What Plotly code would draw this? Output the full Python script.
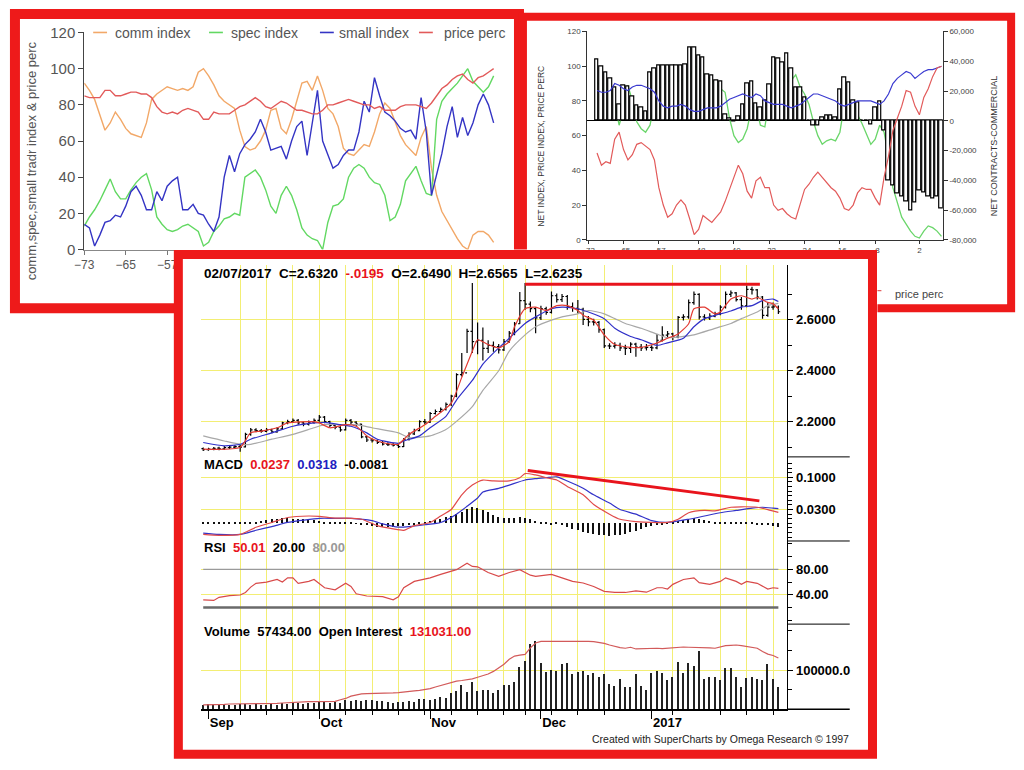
import plotly.graph_objects as go

FONT = "Liberation Sans, Arial, sans-serif"
RED_BORDER = "#ee1a1a"
YEL = "#f3ee74"
W, H = 1024, 770

# ------------------------------------------------------------------ data: top-left panel
weeks_tl = list(range(-73, 7))
comm_index = [92, 88, 83, 75, 66, 70, 76, 72, 67, 64, 63, 62, 70, 83, 86, 88, 90, 89, 88, 89,
              88, 90, 98, 100, 96, 91, 85, 82, 80, 78, 66, 57, 55, 56, 60, 66, 77, 78, 67, 64,
              72, 82, 92, 93, 88, 96, 88, 78, 75, 68, 56, 53, 52, 55, 58, 57, 65, 75, 81, 78,
              70, 63, 58, 55, 52, 62, 68, 45, 30, 21, 16, 11, 6, 2, 0, 8, 10, 10, 8, 4]
spec_index = [13, 18, 22, 27, 33, 39, 32, 28, 28, 33, 37, 40, 42, 33, 18, 14, 11, 10, 11, 13,
              14, 12, 10, 2, 4, 10, 13, 17, 18, 20, 19, 40, 42, 44, 40, 33, 24, 20, 30, 35,
              30, 22, 12, 8, 6, 5, 0, 15, 24, 25, 28, 40, 45, 47, 45, 40, 37, 36, 30, 16,
              18, 25, 38, 42, 46, 38, 31, 30, 72, 82, 86, 89, 92, 96, 100, 93, 90, 87, 90, 96]
small_index = [14, 12, 2, 8, 15, 16, 19, 18, 24, 32, 35, 30, 22, 22, 32, 27, 35, 38, 40, 22,
               22, 25, 20, 19, 14, 10, 18, 40, 52, 43, 53, 58, 61, 65, 72, 65, 55, 56, 57, 50,
               60, 68, 71, 52, 70, 88, 60, 52, 45, 47, 52, 55, 55, 65, 82, 76, 95, 85, 76, 74,
               71, 67, 65, 66, 61, 84, 65, 30, 42, 53, 68, 79, 62, 73, 63, 70, 80, 86, 80, 70]
price_perc_tl = [85, 84, 84, 84, 88, 88, 85, 85, 86, 87, 87, 86, 86, 84, 79, 76, 75, 76, 75, 77,
                 78, 77, 76, 72, 72, 76, 75, 75, 75, 77, 79, 80, 82, 84, 82, 79, 78, 80, 82, 81,
                 79, 77, 77, 76, 75, 75, 77, 80, 80, 81, 82, 83, 82, 81, 80, 80, 78, 79, 77, 77,
                 77, 79, 80, 80, 80, 79, 78, 81, 85, 89, 91, 94, 96, 97, 94, 92, 95, 96, 98, 100]
tl_xticks = [-73, -65, -57]
tl_names = ["comm index", "spec index", "small index", "price perc"]

# ------------------------------------------------------------------ data: top-right panel
weeks_tr = list(range(-71, 8))
net_contracts = [41100, 36700, 32300, 28400, 22400, 10800, 23800, 23300, 16500, 10300,
                 8600, 6400, 32300, 35000, 37400, 37400, 37200, 37200, 37200, 37200,
                 38100, 49000, 49500, 44000, 42300, 31200, 30100, 26800, 26200, 4200,
                 1500, -200, 3000, 10800, 25300, 26200, 11400, 9200, 13600, 24600,
                 42300, 41600, 39000, 45500, 35000, 22400, 22400, 15800, 500, -3300,
                 -3300, 2200, 3300, 3700, 2000, 21300, 29000, 25700, 13600, 12500,
                 400, 300, -2200, 8800, 13000, -6800, -40000, -43600, -49000, -51000,
                 -54500, -60000, -55000, -46800, -48000, -51000, -52000, -51000, -59000]
net_index_tr = [91, 88, 84, 86, 79, 66, 75, 89, 80, 68, 64, 62, 66, 79, 87, 89, 91, 92, 91, 92,
                93, 94, 100, 99, 96, 94, 92, 90, 87, 85, 70, 60, 56, 58, 64, 76, 77, 66, 65, 80,
                88, 92, 92, 91, 92, 95, 88, 84, 78, 68, 60, 55, 57, 58, 57, 62, 78, 80, 79, 72,
                67, 61, 55, 58, 66, 62, 48, 30, 22, 13, 9, 5, 2, 1, 5, 8, 7, 5, 2]
price_index_tr = [86, 85, 85, 86, 90, 89, 87, 86, 88, 89, 89, 88, 87, 85, 80, 77, 76, 77, 77, 78,
                  77, 75, 74, 74, 75, 76, 76, 76, 77, 79, 81, 82, 83, 84, 83, 82, 84, 83, 80, 79,
                  78, 78, 78, 77, 76, 77, 78, 80, 82, 84, 84, 83, 82, 81, 80, 78, 77, 78, 79, 80,
                  80, 80, 80, 79, 78, 80, 84, 90, 93, 95, 97, 96, 93, 95, 97, 98, 98, 99, 100]
price_perc_tr = [50, 43, 45, 44, 58, 62, 52, 46, 49, 55, 56, 54, 52, 46, 30, 20, 13, 15, 20, 23,
                 20, 12, 3, 6, 14, 12, 10, 13, 16, 22, 29, 36, 43, 38, 28, 24, 34, 36, 30, 30,
                 20, 17, 18, 15, 13, 12, 21, 29, 32, 36, 39, 36, 33, 30, 28, 24, 18, 17, 20, 27,
                 30, 29, 29, 24, 20, 36, 48, 63, 70, 77, 86, 85, 77, 72, 82, 87, 94, 99, 100]
tr_xticks = [-73, -65, -57, -48, -40, -32, -24, -16, -8, 2]
tr_y2ticks = [60000, 40000, 20000, 0, -20000, -40000, -60000, -80000]
tr_legend_name = "price perc"

# ------------------------------------------------------------------ data: SuperCharts panel
bar_date = "02/07/2017"
bar_idx = list(range(110))
month_idx = [1, 22, 43, 64, 85]
month_labels = ["Sep", "Oct", "Nov", "Dec", "2017"]
week_lines = [7, 12, 17, 22, 27, 32, 37, 42, 47, 52, 57, 61, 66, 71, 76, 89, 98, 103, 108]

close = [2.090, 2.092, 2.095, 2.093, 2.098, 2.100, 2.102, 2.100, 2.150, 2.168,
         2.165, 2.163, 2.168, 2.160, 2.172, 2.195, 2.200, 2.205, 2.195, 2.190,
         2.198, 2.205, 2.218, 2.200, 2.185, 2.178, 2.168, 2.205, 2.198, 2.190,
         2.140, 2.128, 2.125, 2.118, 2.112, 2.110, 2.108, 2.102, 2.130, 2.152,
         2.165, 2.200, 2.198, 2.232, 2.240, 2.248, 2.268, 2.300, 2.385, 2.392,
         2.555, 2.515, 2.520, 2.488, 2.500, 2.495, 2.482, 2.515, 2.548, 2.585,
         2.676, 2.662, 2.644, 2.608, 2.644, 2.630, 2.695, 2.680, 2.692, 2.652,
         2.645, 2.642, 2.602, 2.592, 2.590, 2.562, 2.498, 2.497, 2.500, 2.490,
         2.488, 2.505, 2.493, 2.490, 2.492, 2.490, 2.520, 2.540, 2.545, 2.532,
         2.610, 2.612, 2.668, 2.700, 2.612, 2.608, 2.615, 2.624, 2.650, 2.700,
         2.706, 2.680, 2.655, 2.720, 2.718, 2.690, 2.618, 2.650, 2.6515, 2.632]
open_ = [2.094, 2.090, 2.092, 2.096, 2.093, 2.098, 2.100, 2.103, 2.101, 2.150,
         2.168, 2.165, 2.162, 2.168, 2.160, 2.172, 2.195, 2.200, 2.205, 2.195,
         2.190, 2.198, 2.205, 2.218, 2.200, 2.185, 2.178, 2.168, 2.205, 2.198,
         2.190, 2.140, 2.128, 2.125, 2.118, 2.112, 2.110, 2.108, 2.102, 2.130,
         2.152, 2.165, 2.200, 2.198, 2.232, 2.240, 2.248, 2.268, 2.300, 2.385,
         2.392, 2.555, 2.515, 2.520, 2.488, 2.500, 2.495, 2.482, 2.515, 2.548,
         2.585, 2.676, 2.662, 2.644, 2.608, 2.644, 2.630, 2.695, 2.680, 2.692,
         2.652, 2.645, 2.642, 2.602, 2.592, 2.590, 2.562, 2.498, 2.497, 2.500,
         2.490, 2.488, 2.505, 2.493, 2.490, 2.492, 2.490, 2.520, 2.540, 2.545,
         2.532, 2.610, 2.612, 2.668, 2.700, 2.612, 2.608, 2.615, 2.624, 2.650,
         2.700, 2.706, 2.680, 2.655, 2.720, 2.718, 2.690, 2.618, 2.650, 2.649]
high = [2.098, 2.097, 2.100, 2.101, 2.104, 2.106, 2.108, 2.112, 2.156, 2.175,
        2.174, 2.171, 2.175, 2.172, 2.178, 2.200, 2.208, 2.212, 2.210, 2.200,
        2.205, 2.212, 2.226, 2.222, 2.204, 2.190, 2.182, 2.212, 2.210, 2.202,
        2.192, 2.145, 2.134, 2.130, 2.124, 2.119, 2.116, 2.112, 2.136, 2.158,
        2.172, 2.206, 2.210, 2.238, 2.248, 2.256, 2.275, 2.306, 2.390, 2.470,
        2.565, 2.745, 2.590, 2.570, 2.520, 2.515, 2.505, 2.525, 2.556, 2.592,
        2.710, 2.745, 2.672, 2.650, 2.656, 2.652, 2.712, 2.704, 2.702, 2.698,
        2.668, 2.678, 2.648, 2.615, 2.605, 2.596, 2.566, 2.508, 2.512, 2.510,
        2.502, 2.512, 2.510, 2.505, 2.505, 2.500, 2.545, 2.575, 2.556, 2.550,
        2.615, 2.622, 2.680, 2.712, 2.705, 2.622, 2.626, 2.632, 2.658, 2.712,
        2.716, 2.710, 2.690, 2.735, 2.730, 2.722, 2.694, 2.668, 2.668, 2.6565]
low = [2.085, 2.086, 2.088, 2.088, 2.090, 2.093, 2.095, 2.082, 2.098, 2.145,
       2.158, 2.156, 2.158, 2.154, 2.156, 2.168, 2.190, 2.195, 2.188, 2.182,
       2.185, 2.192, 2.200, 2.194, 2.178, 2.170, 2.160, 2.165, 2.190, 2.182,
       2.135, 2.120, 2.118, 2.112, 2.106, 2.104, 2.102, 2.096, 2.100, 2.126,
       2.148, 2.162, 2.190, 2.195, 2.228, 2.236, 2.244, 2.262, 2.296, 2.378,
       2.470, 2.470, 2.465, 2.440, 2.470, 2.475, 2.468, 2.478, 2.510, 2.540,
       2.585, 2.640, 2.630, 2.548, 2.600, 2.620, 2.625, 2.668, 2.670, 2.640,
       2.632, 2.626, 2.580, 2.575, 2.578, 2.550, 2.490, 2.486, 2.488, 2.478,
       2.462, 2.470, 2.455, 2.478, 2.480, 2.478, 2.485, 2.515, 2.530, 2.520,
       2.528, 2.598, 2.605, 2.660, 2.602, 2.598, 2.600, 2.610, 2.618, 2.645,
       2.690, 2.672, 2.640, 2.650, 2.700, 2.680, 2.605, 2.612, 2.640, 2.6235]

ma_fast_idx = [0, 7, 9, 11, 14, 16, 21, 22, 24, 27, 29, 31, 33, 36, 37, 39, 42, 44, 47, 49,
               51, 52, 54, 56, 58, 59, 61, 63, 65, 67, 69, 71, 72, 74, 76, 78, 81, 83, 86, 88,
               90, 92, 93, 95, 97, 98, 100, 102, 104, 105, 107, 108, 109]
ma_fast = [2.092, 2.099, 2.156, 2.163, 2.176, 2.195, 2.200, 2.195, 2.176, 2.188,
           2.182, 2.144, 2.124, 2.111, 2.111, 2.150, 2.188, 2.221, 2.272, 2.374,
           2.477, 2.522, 2.503, 2.490, 2.515, 2.573, 2.644, 2.650, 2.637, 2.656,
           2.656, 2.637, 2.618, 2.599, 2.541, 2.503, 2.492, 2.492, 2.509, 2.528,
           2.545, 2.585, 2.644, 2.650, 2.624, 2.631, 2.682, 2.695, 2.682, 2.688,
           2.669, 2.663, 2.644]
ma_mid_idx = [0, 4, 7, 9, 13, 17, 21, 23, 26, 28, 31, 33, 37, 38, 41, 43, 46, 48, 51, 53,
              56, 58, 61, 63, 66, 68, 71, 73, 76, 78, 81, 83, 86, 88, 91, 93, 95, 97, 100, 102,
              104, 106, 108, 109]
ma_mid = [2.118, 2.105, 2.111, 2.131, 2.156, 2.182, 2.195, 2.197, 2.188, 2.182,
          2.156, 2.131, 2.115, 2.124, 2.144, 2.176, 2.221, 2.285, 2.362, 2.426,
          2.490, 2.528, 2.586, 2.612, 2.644, 2.650, 2.644, 2.631, 2.605, 2.567,
          2.535, 2.522, 2.500, 2.510, 2.528, 2.573, 2.605, 2.618, 2.635, 2.650,
          2.656, 2.676, 2.682, 2.672]
ma_slow_idx = [0, 4, 7, 9, 13, 17, 21, 23, 27, 29, 32, 37, 39, 43, 46, 48, 51, 53, 56, 58,
               61, 63, 66, 68, 71, 73, 76, 78, 80, 83, 86, 88, 91, 93, 97, 100, 102, 105, 107, 109]
ma_slow = [2.144, 2.124, 2.111, 2.111, 2.131, 2.150, 2.176, 2.188, 2.188, 2.188,
           2.176, 2.156, 2.137, 2.144, 2.169, 2.201, 2.259, 2.323, 2.400, 2.477,
           2.541, 2.573, 2.599, 2.612, 2.624, 2.637, 2.624, 2.605, 2.586, 2.567,
           2.544, 2.530, 2.535, 2.541, 2.567, 2.586, 2.605, 2.631, 2.656, 2.665]
resistance_idx = [61, 105.5]
resistance_level = [2.74, 2.74]

macd_idx = [0, 3, 7, 10, 13, 16, 20, 22, 25, 27, 30, 33, 36, 38, 40, 43, 45, 47, 49, 51,
            53, 55, 58, 60, 61, 63, 65, 67, 69, 72, 74, 77, 79, 82, 85, 88, 90, 92, 95, 97,
            100, 102, 105, 107, 109]
macd_vals = [-0.024, -0.026, -0.024, -0.0085, 0.002, 0.0127, 0.016, 0.015, 0.0113, 0.0113,
             0.009, -0.005, -0.012, -0.015, -0.005, 0.002, 0.016, 0.030, 0.062, 0.083,
             0.094, 0.092, 0.092, 0.099, 0.108, 0.105, 0.099, 0.094, 0.080, 0.062,
             0.041, 0.020, 0.009, 0.004, 0.002, 0.002, 0.009, 0.023, 0.028, 0.027,
             0.035, 0.036, 0.035, 0.030, 0.0237]
signal_idx = [0, 3, 7, 10, 13, 16, 19, 22, 25, 28, 32, 34, 37, 39, 42, 45, 48, 50, 52, 53,
              56, 58, 61, 63, 65, 67, 69, 72, 74, 77, 79, 82, 85, 88, 92, 95, 98, 101, 104, 106,
              108, 109]
signal_vals = [-0.021, -0.024, -0.024, -0.015, -0.007, 0.002, 0.007, 0.011, 0.011, 0.011,
               0.006, -0.001, -0.008, -0.007, -0.003, 0.002, 0.020, 0.037, 0.055, 0.068,
               0.076, 0.083, 0.094, 0.097, 0.099, 0.101, 0.092, 0.076, 0.062, 0.044,
               0.030, 0.020, 0.006, 0.002, 0.009, 0.016, 0.023, 0.028, 0.033, 0.035,
               0.033, 0.0318]
macd_hist = [0.003, 0.002, 0.002, 0.003, 0.002, 0.002, 0.003, 0.002, 0.002, 0.003,
             0.004, 0.006, 0.008, 0.009, 0.010, 0.011, 0.011, 0.010, 0.010, 0.009,
             0.008, 0.007, 0.005, 0.003, 0.002, 0.002, 0.002, 0.002, 0.002, 0.001,
             -0.002, -0.004, -0.006, -0.007, -0.008, -0.008, -0.007, -0.006, -0.005, -0.003,
             -0.002, 0.002, 0.004, 0.006, 0.008, 0.010, 0.013, 0.016, 0.020, 0.026,
             0.032, 0.036, 0.034, 0.030, 0.024, 0.018, 0.014, 0.012, 0.011, 0.012,
             0.013, 0.012, 0.010, 0.006, 0.003, 0.002, -0.002, 0.002, -0.004, -0.008,
             -0.012, -0.015, -0.018, -0.021, -0.023, -0.025, -0.026, -0.027, -0.026, -0.024,
             -0.022, -0.019, -0.016, -0.012, -0.008, -0.005, -0.003, -0.002, 0.002, 0.004,
             0.006, 0.008, 0.010, 0.011, 0.010, 0.008, 0.006, 0.004, 0.003, 0.003,
             0.004, 0.004, 0.003, 0.002, 0.002, -0.002, -0.002, -0.004, -0.006, -0.0081]
macd_trend_idx = [61.5, 105.4]
macd_trend_vals = [0.1145, 0.0488]

rsi_idx = [0, 2, 3, 5, 7, 8, 9, 10, 12, 14, 15, 16, 17, 18, 20, 21, 23, 25, 27, 28,
           29, 31, 34, 36, 37, 38, 40, 43, 45, 48, 50, 51, 52, 54, 56, 58, 60, 62, 63, 66,
           68, 70, 72, 74, 76, 78, 80, 82, 84, 86, 87, 88, 89, 91, 93, 94, 96, 98, 99, 101,
           102, 103, 105, 107, 108, 109]
rsi_vals = [32, 31, 36, 38.5, 39.6, 43.6, 52, 58, 60, 64, 60, 66.6, 66.6, 58, 61, 64, 51, 47.7, 58, 53,
            41.5, 38, 36.9, 32, 36.9, 51, 61, 66.6, 72, 79.5, 89.7, 84.6, 84, 75, 69, 75, 79.5, 70.8, 69, 72,
            66.6, 61, 58.5, 53, 45.4, 43.6, 43.6, 46, 44, 51, 51, 49, 56.4, 64, 66.6, 59, 56.4, 61, 66.6, 61,
            56.4, 61, 58, 49, 51, 50.01]
rsi_low_level = 20
rsi_high_level = 80

volume = [11000, 12000, 10000, 11000, 12000, 10000, 11000, 13000, 12000, 11000,
          12000, 10000, 11000, 12000, 11000, 15000, 14000, 16000, 15000, 14000,
          15000, 16000, 18000, 17000, 16000, 19000, 15000, 22000, 20000, 22000,
          21000, 23000, 22000, 20000, 21000, 19000, 15000, 19000, 18000, 20000,
          19000, 25000, 26000, 24000, 25000, 30000, 29000, 40000, 47000, 61000,
          44000, 69000, 47000, 50000, 50000, 40000, 48000, 61000, 61000, 69000,
          107000, 123000, 167000, 173000, 119000, 94000, 100000, 98000, 115000, 117000,
          90000, 94000, 97000, 86000, 92000, 82000, 89000, 64000, 60000, 77000,
          57000, 56000, 89000, 60000, 49000, 91000, 98000, 91000, 74000, 82000,
          121000, 93000, 118000, 110000, 149000, 77000, 82000, 81000, 74000, 106000,
          106000, 81000, 57000, 79000, 82000, 77000, 74000, 116000, 77000, 57434]
open_interest = [10800, 11700, 11700, 12500, 12500, 13300, 13300, 13300, 14200, 14200,
                 15000, 15000, 15000, 15000, 15000, 15800, 16700, 17500, 18300, 18300,
                 19200, 19200, 19200, 19200, 19200, 20000, 24200, 27500, 33300, 36700,
                 39200, 40000, 40000, 40000, 40800, 40800, 41700, 42500, 43300, 45800,
                 46700, 48300, 50000, 52500, 56700, 60800, 65000, 69200, 71600, 73300,
                 75000, 77500, 81600, 85800, 90000, 96600, 105000, 115000, 127500, 135800,
                 138300, 140000, 156600, 169100, 173300, 173300, 174100, 175000, 175000, 175000,
                 175000, 175000, 174100, 173300, 172500, 170800, 168300, 164000, 160000, 157500,
                 155800, 158300, 154000, 154800, 155800, 155800, 155800, 155000, 155800, 157400,
                 159000, 159000, 158300, 157400, 157400, 157400, 156600, 155800, 159000, 162400,
                 163300, 164100, 162400, 160000, 158300, 155800, 147400, 140800, 137400, 131031]


# ------------------------------------------------------------------ helpers (layout only)
def fx(p):
    return p / W


def fy(p):
    return 1 - p / H


fig = go.Figure()

# ---------------- top-left panel
tl_colors = ["#f2a868", "#62d862", "#3434c4", "#e25a5a"]
for name, vals, col in zip(tl_names, [comm_index, spec_index, small_index, price_perc_tl], tl_colors):
    fig.add_trace(go.Scatter(x=weeks_tl, y=vals, name=name, mode="lines",
                             line=dict(color=col, width=1.4), xaxis="x", yaxis="y"))

# ---------------- top-right panel
fig.add_trace(go.Scatter(x=weeks_tr, y=net_index_tr, mode="lines", name="net index",
                         line=dict(color="#6ad66a", width=1.3), xaxis="x2", yaxis="y2"))
fig.add_trace(go.Bar(x=weeks_tr, y=net_contracts, width=0.78, name="net contracts",
                     marker=dict(color="white", line=dict(color="black", width=1.2)),
                     xaxis="x2", yaxis="y3"))
fig.add_trace(go.Scatter(x=weeks_tr, y=price_index_tr, mode="lines", name="price index",
                         line=dict(color="#3a3ad0", width=1.2), xaxis="x2", yaxis="y4"))
fig.add_trace(go.Scatter(x=weeks_tr, y=price_perc_tr, mode="lines", name=tr_legend_name,
                         line=dict(color="#e25a5a", width=1.2), xaxis="x2", yaxis="y4"))

# ---------------- SuperCharts: price pane
for xs, ys, col in [(ma_slow_idx, ma_slow, "#a8a8a8"), (ma_mid_idx, ma_mid, "#3030c8"),
                    (ma_fast_idx, ma_fast, "#e23a32")]:
    fig.add_trace(go.Scatter(x=xs, y=ys, mode="lines",
                             line=dict(color=col, width=1.2, shape="spline", smoothing=0.6),
                             xaxis="x3", yaxis="y5"))
fig.add_trace(go.Ohlc(x=bar_idx, open=open_, high=high, low=low, close=close,
                      increasing=dict(line=dict(color="black", width=1.2)),
                      decreasing=dict(line=dict(color="black", width=1.2)),
                      tickwidth=0.35, xaxis="x3", yaxis="y5"))
fig.add_trace(go.Scatter(x=resistance_idx, y=resistance_level, mode="lines",
                         line=dict(color="#e8141c", width=3), xaxis="x3", yaxis="y5"))

# ---------------- MACD pane
fig.add_trace(go.Bar(x=bar_idx, y=macd_hist, width=0.25, marker=dict(color="#111", line=dict(width=0)),
                     xaxis="x4", yaxis="y6"))
fig.add_trace(go.Scatter(x=signal_idx, y=signal_vals, mode="lines",
                         line=dict(color="#3232c8", width=1.2, shape="spline", smoothing=0.6),
                         xaxis="x4", yaxis="y6"))
fig.add_trace(go.Scatter(x=macd_idx, y=macd_vals, mode="lines",
                         line=dict(color="#e04a4a", width=1.2, shape="spline", smoothing=0.6),
                         xaxis="x4", yaxis="y6"))
fig.add_trace(go.Scatter(x=macd_trend_idx, y=macd_trend_vals, mode="lines",
                         line=dict(color="#e8141c", width=3), xaxis="x4", yaxis="y6"))

# ---------------- RSI pane
fig.add_trace(go.Scatter(x=[bar_idx[0], bar_idx[-1]], y=[rsi_high_level] * 2, mode="lines",
                         line=dict(color="#9a9a9a", width=1.2), xaxis="x5", yaxis="y7"))
fig.add_trace(go.Scatter(x=[bar_idx[0], bar_idx[-1]], y=[rsi_low_level] * 2, mode="lines",
                         line=dict(color="#6a6a6a", width=2.5), xaxis="x5", yaxis="y7"))
fig.add_trace(go.Scatter(x=rsi_idx, y=rsi_vals, mode="lines", line=dict(color="#d84a4a", width=1.2),
                         xaxis="x5", yaxis="y7"))

# ---------------- Volume pane
fig.add_trace(go.Bar(x=bar_idx, y=volume, width=0.28, marker=dict(color="#222222", line=dict(width=0)),
                     xaxis="x6", yaxis="y8"))
fig.add_trace(go.Scatter(x=bar_idx, y=open_interest, mode="lines", line=dict(color="#d25a5a", width=1.2),
                         xaxis="x6", yaxis="y8"))

# ------------------------------------------------------------------ axes
small = dict(size=8, color="#444", family=FONT)
bottom_x = [fx(193), fx(785)]
x_range = [-0.4, 110.7]
bold13 = dict(size=13, color="black", family=FONT, weight="bold")


def pane_x(anchor, labels=False):
    d = dict(domain=bottom_x, anchor=anchor, range=x_range, showgrid=False, zeroline=False,
             showticklabels=False, ticks="", fixedrange=True,
             minor=dict(tickmode="array", tickvals=week_lines, showgrid=True, gridcolor=YEL, gridwidth=1))
    if labels:
        d.update(showticklabels=True, tickmode="array", tickvals=month_idx, ticktext=month_labels,
                 ticks="outside", ticklen=8, tickcolor="black", showline=True, linecolor="black",
                 linewidth=1.5, ticklabelposition="outside right", tickfont=bold13,
                 minor=dict(tickmode="array", tickvals=week_lines, showgrid=True, gridcolor=YEL,
                            gridwidth=1, ticks="outside", ticklen=4, tickcolor="black"))
    return d


def pane_y(anchor, dom, rng, tv, tt, minor_vals):
    return dict(domain=dom, anchor=anchor, side="right", range=rng, tickmode="array", tickvals=tv,
                ticktext=tt, showgrid=True, gridcolor=YEL, gridwidth=1, zeroline=False,
                ticks="outside", ticklen=5, tickcolor="black", showline=True, linecolor="black",
                linewidth=1, tickfont=bold13, fixedrange=True,
                minor=dict(tickmode="array", tickvals=minor_vals, ticks="outside", ticklen=4,
                           tickcolor="black", showgrid=False))


layout = dict(
    width=W, height=H, margin=dict(l=0, r=0, t=0, b=0),
    paper_bgcolor="white", plot_bgcolor="rgba(0,0,0,0)",
    font=dict(family=FONT), hovermode=False, bargap=0, showlegend=False,
    # top-left
    xaxis=dict(domain=[fx(75), fx(490)], anchor="y", range=[-73, 6.3], tickmode="array",
               tickvals=tl_xticks, ticks="outside", ticklen=4, tickcolor="#777", showline=True,
               linecolor="#888", showgrid=False, zeroline=False,
               tickfont=dict(size=12, color="#555", family=FONT)),
    yaxis=dict(domain=[fy(246), fy(24)], anchor="x", range=[0, 120], tickmode="array",
               tickvals=[0, 20, 40, 60, 80, 100, 120], ticks="outside", ticklen=5, tickcolor="#444",
               showline=True, linecolor="#444", showgrid=False, zeroline=False,
               tickfont=dict(size=15, color="#555", family=FONT)),
    # top-right
    xaxis2=dict(domain=[fx(583), fx(942)], anchor="y2", range=[-73.2, 7.3], tickmode="array",
                tickvals=tr_xticks, ticks="outside", ticklen=3, tickcolor="#333", showline=True,
                linecolor="#333", showgrid=False, zeroline=False, tickfont=small),
    yaxis2=dict(domain=[fy(236), fy(23)], anchor="x2", range=[0, 120], tickmode="array",
                tickvals=[0, 20, 40, 60, 80, 100, 120], ticks="outside", ticklen=4, tickcolor="#333",
                showline=True, linecolor="#333", showgrid=False, zeroline=False, tickfont=small),
    yaxis3=dict(overlaying="y2", anchor="x2", side="right", range=[-80000, 60000], tickmode="array",
                tickvals=tr_y2ticks, ticktext=[f"{v:,}" for v in tr_y2ticks], ticks="outside",
                ticklen=4, tickcolor="#333", showline=True, linecolor="#333", showgrid=False,
                zeroline=True, zerolinecolor="black", zerolinewidth=1.2, tickfont=small),
    yaxis4=dict(overlaying="y2", anchor="x2", range=[0, 120], visible=False),
    # SuperCharts panes
    xaxis3=dict(pane_x("y5"), rangeslider=dict(visible=False)),
    xaxis4=pane_x("y6"),
    xaxis5=pane_x("y7"),
    xaxis6=pane_x("y8", labels=True),
    yaxis5=pane_y("x3", [fy(458), fy(262)], [2.0615, 2.815], [2.2, 2.4, 2.6],
                  ["2.2000", "2.4000", "2.6000"], [2.1, 2.3, 2.5, 2.7]),
    yaxis6=pane_y("x4", [fy(544), fy(458)], [-0.0382, 0.1442], [0.03, 0.1],
                  ["0.0300", "0.1000"], [-0.03, -0.02, -0.01, 0.0, 0.01, 0.02, 0.04, 0.05, 0.06,
                                         0.07, 0.08, 0.09, 0.11, 0.12, 0.13]),
    yaxis7=pane_y("x5", [fy(629), fy(544)], [-6.2, 124.6], [40, 80], ["40.00", "80.00"],
                  [0, 20, 60, 100, 120]),
    yaxis8=pane_y("x6", [fy(716), fy(629)], [0, 217500], [100000], ["100000.0"],
                  [50000, 150000, 200000]),
)
fig.update_layout(**layout)

# ------------------------------------------------------------------ text
anns = []


def ann(text, x, y, size, color="black", xanchor="left", yanchor="middle", angle=0, bold=False):
    anns.append(dict(text=f"<b>{text}</b>" if bold else text, x=fx(x), y=fy(y), xref="paper",
                     yref="paper", showarrow=False, xanchor=xanchor, yanchor=yanchor,
                     textangle=angle, font=dict(size=size, color=color, family=FONT)))


shapes = []

# top-left legend (short coloured line + name, as in the reference)
for name, col, x_line, x_text in zip(tl_names, tl_colors, [84, 201, 313, 413], [104, 221, 330, 436]):
    shapes.append(dict(type="line", xref="paper", yref="paper", x0=fx(x_line), x1=fx(x_line + 14),
                       y0=fy(24), y1=fy(24), line=dict(color=col, width=1.6), layer="above"))
    ann(name, x_text, 25, 14, "#555")
# top-right partial legend
shapes.append(dict(type="line", xref="paper", yref="paper", x0=fx(876), x1=fx(880), y0=fy(288), y1=fy(288),
                   line=dict(color="#e25a5a", width=1.2), layer="above"))
ann(tr_legend_name, 892, 291, 11, "#444")

ann("comm,spec,small tradr index &amp; price perc", 22, 155, 13, "#555", xanchor="center", angle=-90)
ann("NET INDEX, PRICE INDEX, PRICE PERC", 536, 140, 8.5, "#333", xanchor="center", angle=-90)
ann("NET CONTRACTS-COMMERCIAL", 994, 140, 9, "#333", xanchor="center", angle=-90)

sp = "\u00a0\u00a0"
chg = close[-1] - close[-2]
chg_txt = f"{chg:.4f}".replace("-0.", "-.")
header = (f"{bar_date}{sp}C={close[-1]:.4f}{sp}<span style='color:#e8141c'>{chg_txt}</span>{sp}"
          f"O={open_[-1]:.4f}{sp}H={high[-1]:.4f}{sp}L={low[-1]:.4f}")
ann(header, 194, 270, 13.5, bold=True)
macd_txt = (f"MACD{sp}<span style='color:#e8141c'>{macd_vals[-1]:.4f}</span>{sp}"
            f"<span style='color:#2020c0'>{signal_vals[-1]:.4f}</span>{sp}{macd_hist[-1]:.4f}")
ann(macd_txt, 194, 466, 13, bold=True)
rsi_txt = (f"RSI{sp}<span style='color:#e8141c'>{rsi_vals[-1]:.2f}</span>{sp}{rsi_low_level:.2f}{sp}"
           f"<span style='color:#999'>{rsi_high_level:.2f}</span>")
ann(rsi_txt, 194, 551, 13, bold=True)
vol_txt = (f"Volume{sp}{volume[-1]:.2f}{sp}Open Interest{sp}"
           f"<span style='color:#e8141c'>{open_interest[-1]:.2f}</span>")
ann(vol_txt, 194, 637, 13, bold=True)
ann("Created with SuperCharts by Omega Research \u00a9 1997", 849, 746, 10.5, "#222", xanchor="right")
fig.update_layout(annotations=anns)

# ------------------------------------------------------------------ frames / separators
shapes += [
    dict(type="rect", xref="paper", yref="paper", x0=fx(5), x1=fx(514), y0=fy(5), y1=fy(306),
         line=dict(color=RED_BORDER, width=10), layer="below"),
    dict(type="rect", xref="paper", yref="paper", x0=fx(518), x1=fx(1011), y0=fy(8), y1=fy(306),
         line=dict(color=RED_BORDER, width=8), layer="below"),
    dict(type="rect", xref="paper", yref="paper", x0=fx(166), x1=fx(876), y0=fy(246), y1=fy(766),
         fillcolor="white", line=dict(width=0), layer="below"),
]
for py in (458, 544, 629):
    shapes.append(dict(type="line", xref="paper", yref="paper", x0=fx(785), x1=fx(848), y0=fy(py), y1=fy(py),
                       line=dict(color="black", width=1), layer="above"))
shapes.append(dict(type="line", xref="paper", yref="paper", x0=fx(785), x1=fx(848), y0=fy(716), y1=fy(716),
                   line=dict(color="black", width=1.5), layer="above"))
shapes.append(dict(type="rect", xref="paper", yref="paper", x0=fx(170), x1=fx(871), y0=fy(251), y1=fy(762),
                   line=dict(color=RED_BORDER, width=9), layer="above"))
fig.update_layout(shapes=shapes)

fig.write_html("out.html", config={"displayModeBar": False, "responsive": False},
               post_script="document.body.style.margin='0px';document.body.style.padding='0px';")
